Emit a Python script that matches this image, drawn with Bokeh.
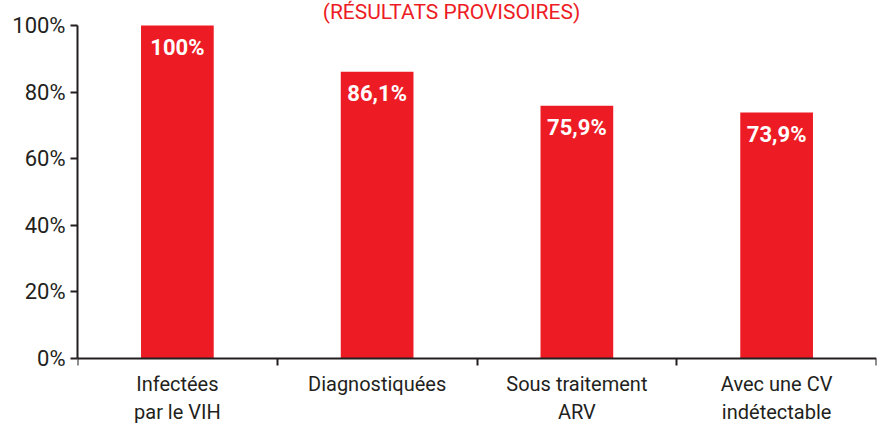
from bokeh.plotting import figure
from bokeh.models import Range1d, FixedTicker, PrintfTickFormatter, Label, ColumnDataSource
from bokeh.core.properties import value
from bokeh.embed import file_html
from bokeh.resources import INLINE

categories = ["Infectées\npar le VIH", "Diagnostiquées", "Sous traitement\nARV", "Avec une CV\nindétectable"]
values = [100, 86.1, 75.9, 73.9]
y_ticks = [0, 20, 40, 60, 80, 100]
title_text = "(RÉSULTATS PROVISOIRES)"

RED = "#ED1C24"
DARK = "#231F20"
FONT = "Roboto"

def fmt(v):
    return (f"{int(v)}%" if float(v).is_integer() else f"{v:.1f}%".replace(".", ","))

n = len(categories)
centers = [i + 0.5 for i in range(n)]
src = ColumnDataSource(dict(x=centers, top=values, label=[fmt(v) for v in values]))

# frame spans the full canvas height; the 0..100 scale sits inside it
p = figure(width=878, height=429, output_backend="svg", toolbar_location=None,
           x_range=Range1d(0, n), y_range=Range1d(-21.3, 107.5),
           min_border_left=77, min_border_right=2, min_border_top=0, min_border_bottom=0)
p.outline_line_color = None
p.grid.visible = False
p.background_fill_color = "white"
p.border_fill_color = "white"

p.vbar(x="x", top="top", width=0.364, bottom=0, source=src, color=RED, line_color=None)
p.text(x="x", y="top", text="label", source=src, text_color="white",
       text_font=value(FONT), text_font_style="bold", text_font_size="22px",
       text_align="center", text_baseline="middle", y_offset=22)

# y axis
ya = p.yaxis[0]
ya.bounds = (0, 100)
ya.ticker = FixedTicker(ticks=y_ticks, minor_ticks=[])
ya.formatter = PrintfTickFormatter(format="%d%%")
ya.axis_line_width = 2
ya.axis_line_color = DARK
ya.major_tick_line_width = 2
ya.major_tick_line_color = DARK
ya.major_tick_in = 0
ya.major_tick_out = 7
ya.minor_tick_line_color = None
ya.major_label_standoff = 5
ya.major_label_text_font = FONT
ya.major_label_text_font_size = "22px"
ya.major_label_text_color = DARK

# x axis at y=0: labels at centers, ticks at category boundaries
xa = p.xaxis[0]
xa.fixed_location = 0
xa.ticker = FixedTicker(ticks=centers, minor_ticks=list(range(n + 1)))
xa.major_label_overrides = {c: lab for c, lab in zip(centers, categories)}
xa.axis_line_width = 2
xa.axis_line_color = DARK
xa.major_tick_line_color = None
xa.major_tick_in = 0
xa.major_tick_out = 0
xa.minor_tick_line_width = 2
xa.minor_tick_line_color = DARK
xa.minor_tick_in = 0
xa.minor_tick_out = 7
xa.major_label_standoff = 6
xa.major_label_text_font = FONT
xa.major_label_text_font_size = "20px"
xa.major_label_text_color = DARK

p.add_layout(Label(x=374, y=103.9, x_units="screen", y_units="data", text=title_text,
                   text_color=RED, text_font="Roboto",
                   text_font_size="21px", text_align="center", text_baseline="middle"))

open("out.html", "w").write(file_html(p, INLINE))
